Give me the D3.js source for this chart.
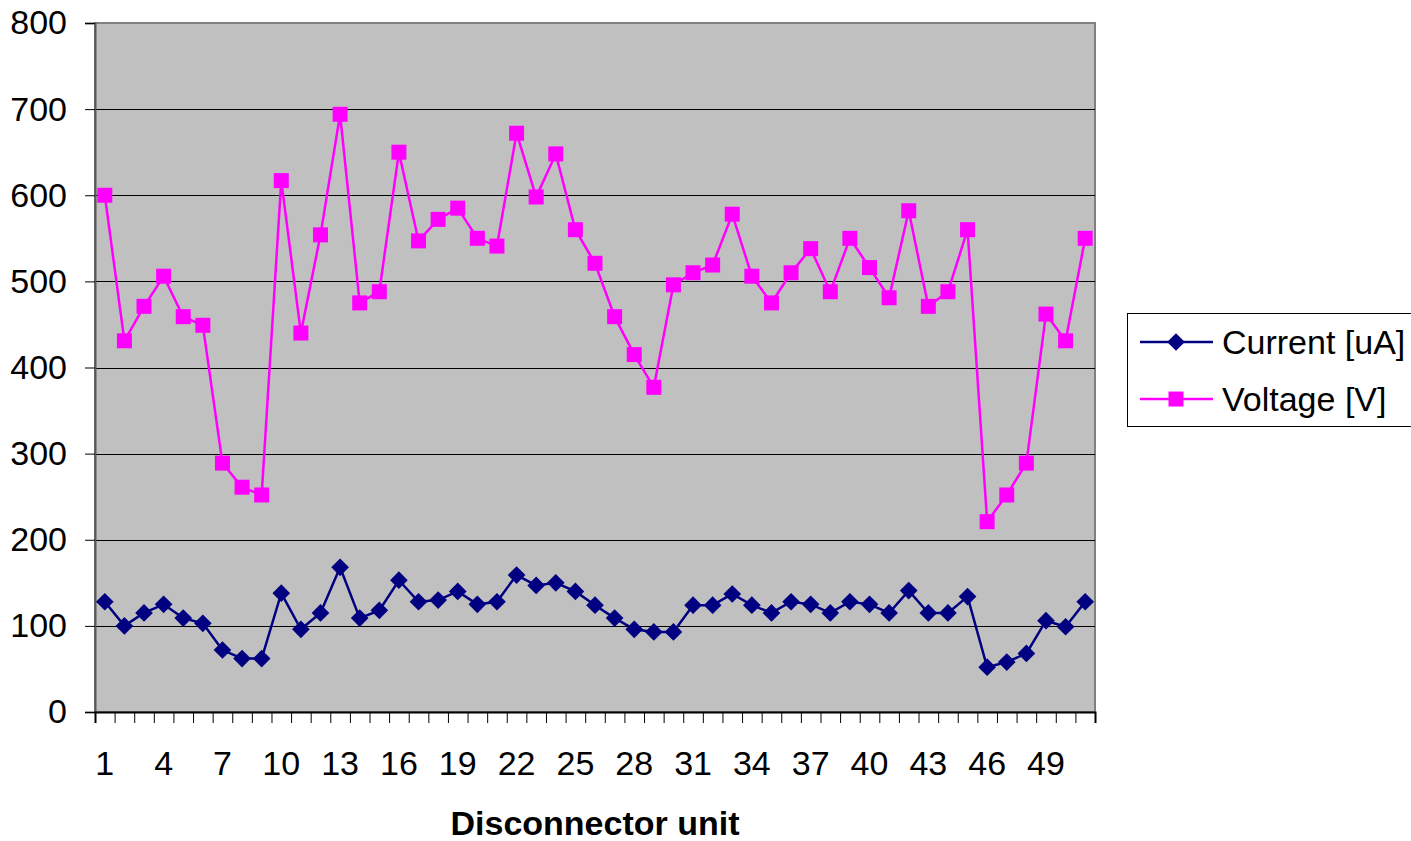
<!DOCTYPE html>
<html>
<head>
<meta charset="utf-8">
<script src="https://cdn.jsdelivr.net/npm/d3@7"></script>
<style>
  html, body { margin: 0; padding: 0; background: #fff; }
  svg { display: block; font-family: "Liberation Sans", Arial, sans-serif; }
</style>
</head>
<body>
<svg id="chart" width="1411" height="841"></svg>
<script>
const units = d3.range(1, 52);
const current = [128,100,115,125,109,103,72,62,62,138,96,115,168,109,118,153,128,130,140,125,128,159,147,150,140,
                 124,109,96,93,93,124,124,137,124,115,128,125,115,128,125,115,141,115,115,134,52,58,68,106,99,128];
const voltage = [600,431,471,506,459,449,289,261,252,617,440,554,694,475,488,650,547,572,585,550,541,672,598,648,560,
                 521,459,415,377,496,510,519,578,506,475,510,538,488,550,516,481,582,471,488,560,221,252,289,462,431,550];
const yTicks = [0,100,200,300,400,500,600,700,800];
const xLabels = units.filter((d, i) => i % 3 === 0);
const seriesNames = ["Current [uA]", "Voltage [V]"];
const seriesColors = ["#000080", "#FF00FF"];

const svg = d3.select("#chart");
const L = 95, R = 1095, T = 23, B = 712;
const FS = 34;

const x = d3.scaleBand().domain(units).range([L, R]).padding(0);
const xEdge = d3.scaleLinear().domain([0, units.length]).range([L, R]);
const y = d3.scaleLinear().domain([0, 800]).range([B, T]);
const cx = d => x(d) + x.bandwidth() / 2;
const diamond = d3.symbol(d3.symbolDiamond2 || d3.symbolDiamond, 200)();

// plot background
svg.append("rect").attr("x", L).attr("y", T).attr("width", R - L).attr("height", B - T)
  .attr("fill", "#C0C0C0").attr("stroke", "#808080").attr("stroke-width", 2);

// gridlines
svg.append("g").selectAll("line").data(yTicks.filter(v => v > 0 && v < 800)).join("line")
  .attr("x1", L).attr("x2", R).attr("y1", d => Math.round(y(d)) + 0.5).attr("y2", d => Math.round(y(d)) + 0.5)
  .attr("stroke", "#000").attr("stroke-width", 1.2);

// y axis
const yAxis = svg.append("g").attr("transform", `translate(${L},0)`)
  .call(d3.axisLeft(y).tickValues(yTicks).tickSize(10).tickPadding(18).tickFormat(d3.format("d")));
yAxis.select(".domain").attr("stroke", "#555").attr("stroke-width", 2);
yAxis.selectAll(".tick line").attr("stroke", "#000");
yAxis.selectAll("text").attr("font-size", FS).attr("fill", "#000").attr("font-family", "Liberation Sans, Arial, sans-serif");

// x axis tick marks at category boundaries
const xTickAxis = svg.append("g").attr("transform", `translate(0,${B})`)
  .call(d3.axisBottom(xEdge).tickValues(d3.range(0, units.length + 1)).tickSize(11).tickFormat(""));
xTickAxis.select(".domain").attr("stroke", "#000").attr("stroke-width", 2);
xTickAxis.selectAll(".tick line").attr("stroke", "#000");

// x labels
const xLabAxis = svg.append("g").attr("transform", `translate(0,${B})`)
  .call(d3.axisBottom(x).tickValues(xLabels).tickSize(0).tickPadding(39));
xLabAxis.select(".domain").remove();
xLabAxis.selectAll("text").attr("font-size", FS).attr("fill", "#000").attr("font-family", "Liberation Sans, Arial, sans-serif");

// axis title
svg.append("text").attr("x", 595).attr("y", 835).attr("text-anchor", "middle")
  .attr("font-size", 34).attr("font-weight", "bold").text("Disconnector unit");

const line = d3.line().x((d, i) => cx(units[i])).y(d => y(d));

// current series
svg.append("path").datum(current).attr("d", line).attr("fill", "none")
  .attr("stroke", seriesColors[0]).attr("stroke-width", 2.5);
svg.append("g").selectAll("path").data(current).join("path")
  .attr("d", diamond)
  .attr("transform", (d, i) => `translate(${cx(units[i])},${y(d)})`)
  .attr("fill", seriesColors[0]);

// voltage series
svg.append("path").datum(voltage).attr("d", line).attr("fill", "none")
  .attr("stroke", seriesColors[1]).attr("stroke-width", 2.5);
svg.append("g").selectAll("rect").data(voltage).join("rect")
  .attr("x", (d, i) => cx(units[i]) - 7.5).attr("y", d => y(d) - 7.5)
  .attr("width", 15).attr("height", 15).attr("fill", seriesColors[1]);

// legend
const lg = svg.append("g");
lg.append("rect").attr("x", 1127.5).attr("y", 313.5).attr("width", 290).attr("height", 113)
  .attr("fill", "#fff").attr("stroke", "#000").attr("stroke-width", 1);
const rows = [342, 399];
seriesNames.forEach((name, i) => {
  const g = lg.append("g");
  g.append("line").attr("x1", 1140).attr("x2", 1213).attr("y1", rows[i]).attr("y2", rows[i])
    .attr("stroke", seriesColors[i]).attr("stroke-width", 2.5);
  if (i === 0) {
    g.append("path").attr("d", diamond)
      .attr("transform", `translate(1176,${rows[i]})`).attr("fill", seriesColors[i]);
  } else {
    g.append("rect").attr("x", 1176 - 7.5).attr("y", rows[i] - 7.5).attr("width", 15).attr("height", 15)
      .attr("fill", seriesColors[i]);
  }
  g.append("text").attr("x", 1222).attr("y", rows[i] + 12).attr("font-size", FS).attr("fill", "#000").text(name);
});
</script>
</body>
</html>
